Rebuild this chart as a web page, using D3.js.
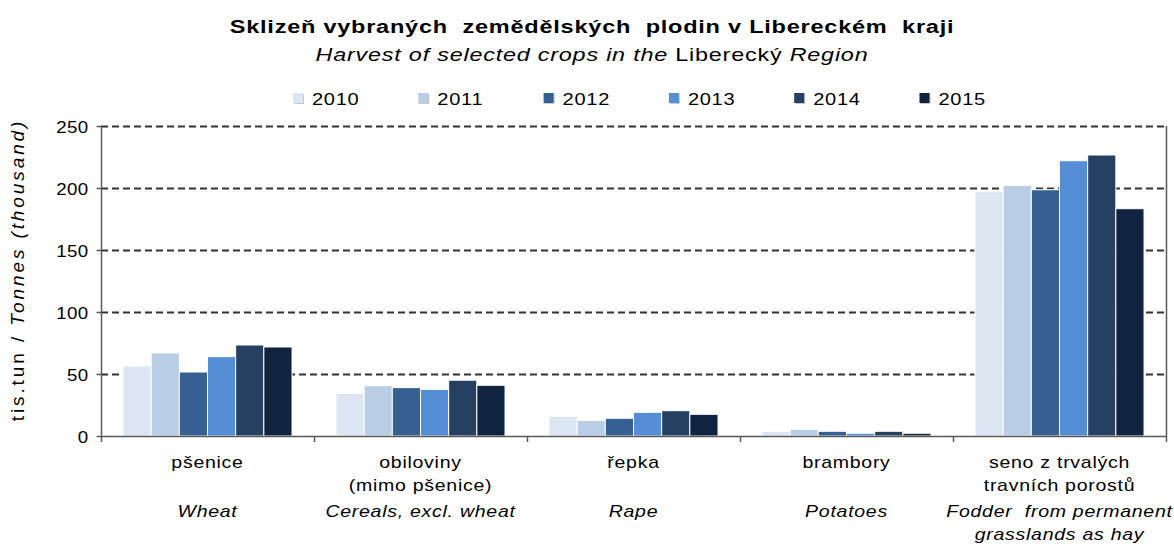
<!DOCTYPE html>
<html>
<head>
<meta charset="utf-8">
<script src="https://cdn.jsdelivr.net/npm/d3@7"></script>
<style>
  html, body { margin: 0; padding: 0; background: #fff; }
  svg { display: block; }
  text { font-family: "Liberation Sans", Arial, sans-serif; fill: #000; }
</style>
</head>
<body>
<svg id="chart" width="1174" height="545"></svg>
<script>
// ---- data ----
const categoriesCz = [["pšenice"], ["obiloviny", "(mimo pšenice)"], ["řepka"], ["brambory"], ["seno z trvalých", "travních porostů"]];
const categoriesEn = [["Wheat"], ["Cereals, excl. wheat"], ["Rape"], ["Potatoes"], ["Fodder  from permanent", "grasslands as hay"]];
const categoryKeys = ["wheat", "cereals", "rape", "potatoes", "fodder"];
const years = ["2010", "2011", "2012", "2013", "2014", "2015"];
const v2010 = [56.5, 34.4, 15.9, 3.8, 197.0];
const v2011 = [67.0, 40.6, 12.6, 5.4, 202.0];
const v2012 = [51.6, 39.0, 14.3, 3.8, 198.6];
const v2013 = [64.0, 37.6, 19.1, 2.2, 222.0];
const v2014 = [73.4, 45.0, 20.4, 3.8, 226.6];
const v2015 = [71.8, 40.9, 17.5, 2.2, 183.3];
const yTicks = [0, 50, 100, 150, 200, 250];
const yearColors = ["#dce6f2", "#b9cde5", "#376092", "#558ed5", "#254061", "#11243f"];
const titleCz = "Sklizeň vybraných  zemědělských  plodin v Libereckém  kraji";
const subtitleParts = [["Harvest of selected crops in the ", "italic"], ["Liberecký", "normal"], [" Region", "italic"]];
const yLabelParts = [["tis.tun / ", "normal"], ["Tonnes (thousand)", "italic"]];

const series = [v2010, v2011, v2012, v2013, v2014, v2015];

// ---- layout ----
const svg = d3.select("#chart");
const L = 101, R = 1166, T = 126, B = 436;
const SX = 1.22;      // horizontal text stretch
const LS = "0.6px";   // letter spacing

const x0 = d3.scaleBand().domain(categoryKeys).range([L, R]).paddingInner(0).paddingOuter(0);
const x1 = d3.scaleBand().domain(years).range([0, x0.bandwidth()]).paddingInner(0).paddingOuter(0.78);
const y = d3.scaleLinear().domain([0, 250]).range([B, T]);
const color = d3.scaleOrdinal().domain(years).range(yearColors);

function txt(g, xx, yy, parts, opts) {
  const t = g.append("text")
    .attr("transform", `translate(${xx},${yy}) scale(${opts.sx || SX},1)`)
    .attr("text-anchor", opts.anchor || "middle")
    .style("font-size", (opts.size || 17) + "px")
    .style("font-weight", opts.weight || "normal")
    .style("letter-spacing", opts.ls || LS);
  if (typeof parts === "string") parts = [[parts, opts.style || "normal"]];
  parts.forEach(p => t.append("tspan").text(p[0]).style("font-style", p[1]).attr("xml:space", "preserve"));
  t.attr("xml:space", "preserve");
  return t;
}

// gridlines
const grid = svg.append("g");
grid.selectAll("line").data(yTicks.filter(d => d > 0)).join("line")
  .attr("x1", L).attr("x2", R)
  .attr("y1", d => Math.round(y(d)) + 0.5).attr("y2", d => Math.round(y(d)) + 0.5)
  .attr("stroke", "#333").attr("stroke-width", d => d === 250 ? 2.2 : 1.8)
  .attr("stroke-dasharray", "7,4");

// bars
const groups = svg.append("g").selectAll("g").data(categoryKeys).join("g")
  .attr("transform", d => `translate(${x0(d)},0)`);
groups.selectAll("rect").data((d, i) => years.map((yr, j) => ({ yr, v: series[j][i] }))).join("rect")
  .attr("x", d => x1(d.yr))
  .attr("width", x1.bandwidth())
  .attr("y", d => y(d.v))
  .attr("height", d => B - y(d.v))
  .attr("fill", d => color(d.yr))
  .attr("stroke", "#fff").attr("stroke-width", 1);

// axes
const axisColor = "#5a5a5a";
const yAxis = svg.append("g").attr("transform", `translate(${L + 0.5},0)`)
  .call(d3.axisLeft(y).tickValues(yTicks).tickSize(5).tickPadding(8).tickFormat(d3.format("d")));
yAxis.select(".domain").attr("stroke", axisColor).attr("stroke-width", 1.5).attr("d", `M0,${T}V${B}`);
yAxis.selectAll(".tick line").attr("stroke", axisColor).attr("stroke-width", 1.5);
yAxis.selectAll(".tick text").remove();
yAxis.selectAll(".tick").each(function (d) {
  txt(d3.select(this), -13, 6, String(d), { anchor: "end", size: 17, sx: 1.1, ls: "0.3px" });
});

const boundaries = categoryKeys.map(k => x0(k)).concat([R]);
const xAxis = svg.append("g");
xAxis.append("line").attr("x1", L).attr("x2", R + 1).attr("y1", B + 0.5).attr("y2", B + 0.5)
  .attr("stroke", axisColor).attr("stroke-width", 1.5);
xAxis.selectAll("line.tk").data(boundaries).join("line").attr("class", "tk")
  .attr("x1", d => d + 0.5).attr("x2", d => d + 0.5).attr("y1", B).attr("y2", B + 6)
  .attr("stroke", axisColor).attr("stroke-width", 1.5);
// right border
svg.append("line").attr("x1", R + 0.5).attr("x2", R + 0.5).attr("y1", T).attr("y2", B)
  .attr("stroke", axisColor).attr("stroke-width", 1.5);

// category labels
const labG = svg.append("g");
categoryKeys.forEach((k, i) => {
  const cx = x0(k) + x0.bandwidth() / 2;
  categoriesCz[i].forEach((line, j) => txt(labG, cx, 468 + j * 23, line, { size: 16 }));
  categoriesEn[i].forEach((line, j) => txt(labG, cx, 517 + j * 23, line, { size: 16, style: "italic" }));
});

// title
txt(svg, 592, 33, titleCz, { size: 19, weight: "bold", sx: 1.24, ls: "0.6px" });
txt(svg, 592, 61, subtitleParts, { size: 18, sx: 1.3 });

// y label
svg.append("text")
  .attr("transform", "translate(24,270) rotate(-90)")
  .attr("text-anchor", "middle")
  .style("font-size", "19px").style("letter-spacing", "2.9px")
  .selectAll("tspan").data(yLabelParts).join("tspan")
  .text(d => d[0]).style("font-style", d => d[1]).attr("xml:space", "preserve");

// legend
const lx = d3.scaleBand().domain(years).range([293, 293 + 6 * 125.3]);
const leg = svg.append("g").selectAll("g").data(years).join("g")
  .attr("transform", d => `translate(${lx(d)},0)`);
leg.append("rect").attr("x", 1).attr("y", 94).attr("width", 10).attr("height", 10)
  .attr("fill", "#c8c8c8");
leg.append("rect").attr("x", 0).attr("y", 93).attr("width", 10).attr("height", 10)
  .attr("fill", d => color(d));
leg.each(function (d) { txt(d3.select(this), 19, 105, d, { anchor: "start", size: 17, sx: 1.18 }); });
</script>
</body>
</html>
